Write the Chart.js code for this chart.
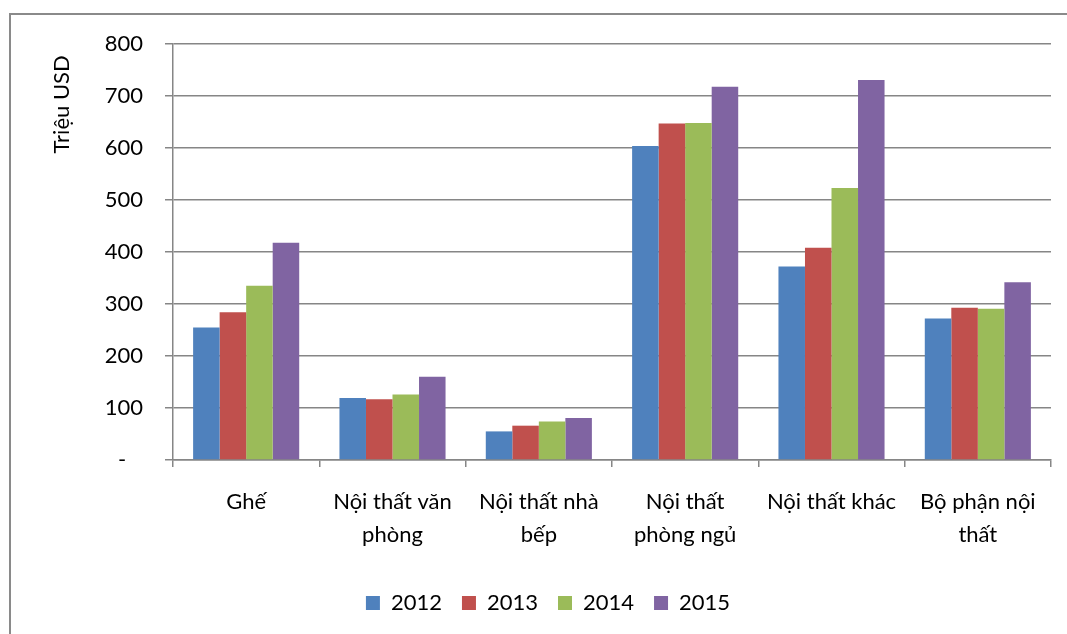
<!DOCTYPE html>
<html>
<head>
<meta charset="utf-8">
<script src="https://cdn.jsdelivr.net/npm/chart.js@4/dist/chart.umd.min.js"></script>
<style>
  html, body { margin: 0; padding: 0; background: #fff; }
  #wrap { position: relative; width: 1067px; height: 634px; overflow: hidden; }
  #frame { position: absolute; left: 9px; top: 13px; width: 1200px; height: 800px;
           border-left: 2px solid #8a8a8a; border-top: 2px solid #8a8a8a; }
  canvas { position: absolute; left: 0; top: 0; }
</style>
</head>
<body>
<div id="wrap">
  <div id="frame"></div>
  <canvas id="chart" width="1067" height="634"></canvas>
</div>
<script>
// categories (multi-line as in the original)
const categories = [
  'Ghế',
  ['Nội thất văn', 'phòng'],
  ['Nội thất nhà', 'bếp'],
  ['Nội thất', 'phòng ngủ'],
  'Nội thất khác',
  ['Bộ phận nội', 'thất']
];
const years = ['2012', '2013', '2014', '2015'];

// Triệu USD
const v2012 = [255, 119, 55, 604, 372, 272];
const v2013 = [284, 117, 66, 647, 408, 293];
const v2014 = [335, 126, 74, 648, 523, 291];
const v2015 = [418, 160, 81, 718, 731, 342];

const yTicks = [0, 100, 200, 300, 400, 500, 600, 700, 800];

const colors = ['#4F81BD', '#C0504D', '#9BBB59', '#8064A2'];
const gridColor = '#868686';
const font = { family: 'Lato', size: 22 };

const series = [v2012, v2013, v2014, v2015];

new Chart(document.getElementById('chart').getContext('2d'), {
  type: 'bar',
  data: {
    labels: categories,
    datasets: series.map((vals, i) => ({
      label: years[i],
      data: vals,
      backgroundColor: colors[i],
      borderWidth: 0,
      categoryPercentage: 0.725,
      barPercentage: 1
    }))
  },
  options: {
    responsive: false,
    animation: false,
    devicePixelRatio: 1,
    layout: { padding: { left: 45, right: 16, top: 44, bottom: 10 } },
    plugins: {
      tooltip: { enabled: false },
      legend: {
        position: 'bottom',
        labels: {
          font: font,
          color: '#000',
          boxWidth: 14,
          boxHeight: 14,
          padding: 20
        }
      }
    },
    scales: {
      x: {
        grid: {
          offset: true,
          drawOnChartArea: false,
          drawTicks: true,
          tickLength: 7,
          color: gridColor,
          lineWidth: 1.5
        },
        border: { display: true, color: gridColor, width: 1.5 },
        ticks: {
          font: { family: 'Lato', size: 22, lineHeight: 1.5 },
          color: '#000',
          padding: 18,
          maxRotation: 0,
          autoSkip: false
        },
        afterFit: s => { s.height = 112; }
      },
      y: {
        min: 0,
        max: 800,
        afterBuildTicks: s => { s.ticks = yTicks.map(v => ({ value: v })); },
        ticks: {
          font: font,
          color: '#000',
          padding: 22,
          callback: v => v === 0 ? '-   ' : String(v)
        },
        grid: {
          color: gridColor,
          lineWidth: 1.5,
          tickLength: 8
        },
        border: { display: true, color: gridColor, width: 1.5 },
        title: {
          display: true,
          text: 'Triệu USD  ',
          font: font,
          color: '#000',
          align: 'end',
          padding: { top: 4, bottom: 0 }
        },
        afterFit: s => { s.width = 128; }
      }
    }
  }
});
</script>
</body>
</html>
